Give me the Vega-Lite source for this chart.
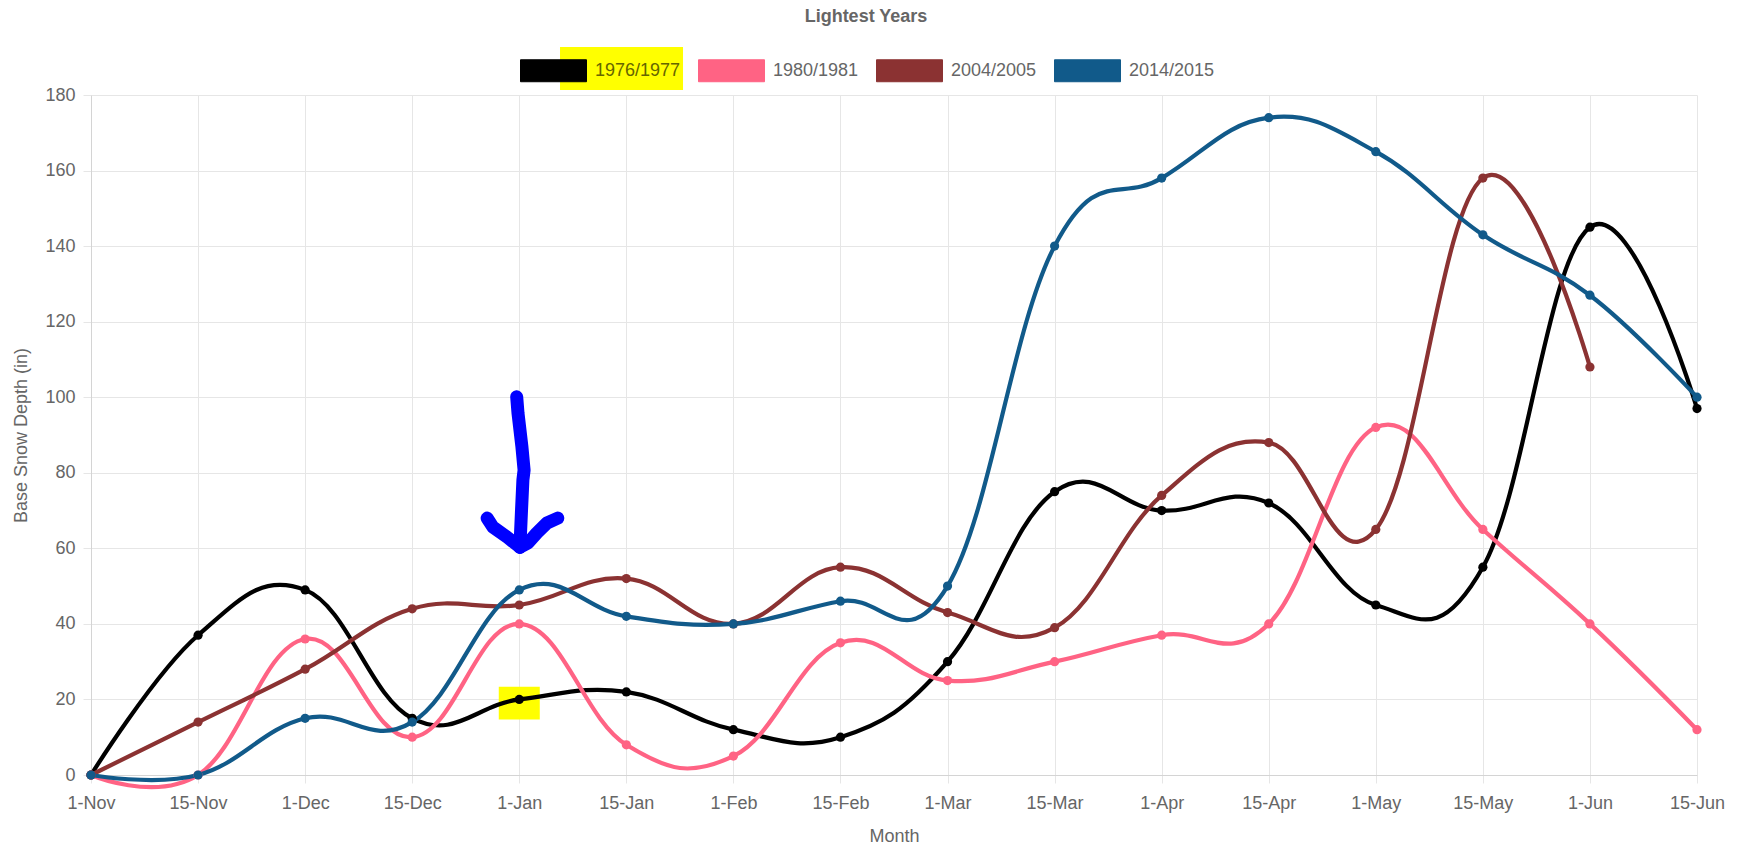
{
  "$schema": "https://vega.github.io/schema/vega-lite/v6.json",
  "width": 1606,
  "height": 680,
  "autosize": {"type": "none"},
  "padding": {"left": 91, "top": 95, "right": 44, "bottom": 71},
  "background": "white",
  "title": {"text": "Lightest Years", "fontSize": 18, "fontWeight": "bold", "color": "#666666", "font": "Liberation Sans", "anchor": "middle", "dx": -28, "offset": 11},
  "config": {"view": {"stroke": null}, "font": "Liberation Sans"},
  "datasets": {
    "depths": [
      {"season": "1976/1977", "pos": 0, "month": "1-Nov", "depth": 0},
      {"season": "1976/1977", "pos": 1, "month": "15-Nov", "depth": 37},
      {"season": "1976/1977", "pos": 2, "month": "1-Dec", "depth": 49},
      {"season": "1976/1977", "pos": 3, "month": "15-Dec", "depth": 15},
      {"season": "1976/1977", "pos": 4, "month": "1-Jan", "depth": 20},
      {"season": "1976/1977", "pos": 5, "month": "15-Jan", "depth": 22},
      {"season": "1976/1977", "pos": 6, "month": "1-Feb", "depth": 12},
      {"season": "1976/1977", "pos": 7, "month": "15-Feb", "depth": 10},
      {"season": "1976/1977", "pos": 8, "month": "1-Mar", "depth": 30},
      {"season": "1976/1977", "pos": 9, "month": "15-Mar", "depth": 75},
      {"season": "1976/1977", "pos": 10, "month": "1-Apr", "depth": 70},
      {"season": "1976/1977", "pos": 11, "month": "15-Apr", "depth": 72},
      {"season": "1976/1977", "pos": 12, "month": "1-May", "depth": 45},
      {"season": "1976/1977", "pos": 13, "month": "15-May", "depth": 55},
      {"season": "1976/1977", "pos": 14, "month": "1-Jun", "depth": 145},
      {"season": "1976/1977", "pos": 15, "month": "15-Jun", "depth": 97},
      {"season": "1980/1981", "pos": 0, "month": "1-Nov", "depth": 0},
      {"season": "1980/1981", "pos": 1, "month": "15-Nov", "depth": 0},
      {"season": "1980/1981", "pos": 2, "month": "1-Dec", "depth": 36},
      {"season": "1980/1981", "pos": 3, "month": "15-Dec", "depth": 10},
      {"season": "1980/1981", "pos": 4, "month": "1-Jan", "depth": 40},
      {"season": "1980/1981", "pos": 5, "month": "15-Jan", "depth": 8},
      {"season": "1980/1981", "pos": 6, "month": "1-Feb", "depth": 5},
      {"season": "1980/1981", "pos": 7, "month": "15-Feb", "depth": 35},
      {"season": "1980/1981", "pos": 8, "month": "1-Mar", "depth": 25},
      {"season": "1980/1981", "pos": 9, "month": "15-Mar", "depth": 30},
      {"season": "1980/1981", "pos": 10, "month": "1-Apr", "depth": 37},
      {"season": "1980/1981", "pos": 11, "month": "15-Apr", "depth": 40},
      {"season": "1980/1981", "pos": 12, "month": "1-May", "depth": 92},
      {"season": "1980/1981", "pos": 13, "month": "15-May", "depth": 65},
      {"season": "1980/1981", "pos": 14, "month": "1-Jun", "depth": 40},
      {"season": "1980/1981", "pos": 15, "month": "15-Jun", "depth": 12},
      {"season": "2004/2005", "pos": 0, "month": "1-Nov", "depth": 0},
      {"season": "2004/2005", "pos": 1, "month": "15-Nov", "depth": 14},
      {"season": "2004/2005", "pos": 2, "month": "1-Dec", "depth": 28},
      {"season": "2004/2005", "pos": 3, "month": "15-Dec", "depth": 44},
      {"season": "2004/2005", "pos": 4, "month": "1-Jan", "depth": 45},
      {"season": "2004/2005", "pos": 5, "month": "15-Jan", "depth": 52},
      {"season": "2004/2005", "pos": 6, "month": "1-Feb", "depth": 40},
      {"season": "2004/2005", "pos": 7, "month": "15-Feb", "depth": 55},
      {"season": "2004/2005", "pos": 8, "month": "1-Mar", "depth": 43},
      {"season": "2004/2005", "pos": 9, "month": "15-Mar", "depth": 39},
      {"season": "2004/2005", "pos": 10, "month": "1-Apr", "depth": 74},
      {"season": "2004/2005", "pos": 11, "month": "15-Apr", "depth": 88},
      {"season": "2004/2005", "pos": 12, "month": "1-May", "depth": 65},
      {"season": "2004/2005", "pos": 13, "month": "15-May", "depth": 158},
      {"season": "2004/2005", "pos": 14, "month": "1-Jun", "depth": 108},
      {"season": "2014/2015", "pos": 0, "month": "1-Nov", "depth": 0},
      {"season": "2014/2015", "pos": 1, "month": "15-Nov", "depth": 0},
      {"season": "2014/2015", "pos": 2, "month": "1-Dec", "depth": 15},
      {"season": "2014/2015", "pos": 3, "month": "15-Dec", "depth": 14},
      {"season": "2014/2015", "pos": 4, "month": "1-Jan", "depth": 49},
      {"season": "2014/2015", "pos": 5, "month": "15-Jan", "depth": 42},
      {"season": "2014/2015", "pos": 6, "month": "1-Feb", "depth": 40},
      {"season": "2014/2015", "pos": 7, "month": "15-Feb", "depth": 46},
      {"season": "2014/2015", "pos": 8, "month": "1-Mar", "depth": 50},
      {"season": "2014/2015", "pos": 9, "month": "15-Mar", "depth": 140},
      {"season": "2014/2015", "pos": 10, "month": "1-Apr", "depth": 158},
      {"season": "2014/2015", "pos": 11, "month": "15-Apr", "depth": 174},
      {"season": "2014/2015", "pos": 12, "month": "1-May", "depth": 165},
      {"season": "2014/2015", "pos": 13, "month": "15-May", "depth": 143},
      {"season": "2014/2015", "pos": 14, "month": "1-Jun", "depth": 127},
      {"season": "2014/2015", "pos": 15, "month": "15-Jun", "depth": 100}
    ],
    "arrow": [
      {"part": "shaft", "order": 0, "pos": 3.976, "depth": 100.1},
      {"part": "shaft", "order": 1, "pos": 3.988, "depth": 95.8},
      {"part": "shaft", "order": 2, "pos": 4.025, "depth": 86.8},
      {"part": "shaft", "order": 3, "pos": 4.045, "depth": 80.7},
      {"part": "shaft", "order": 4, "pos": 4.034, "depth": 78.1},
      {"part": "shaft", "order": 5, "pos": 4.02, "depth": 69.4},
      {"part": "shaft", "order": 6, "pos": 4.006, "depth": 60.3},
      {"part": "left", "order": 0, "pos": 3.7, "depth": 68.0},
      {"part": "left", "order": 1, "pos": 3.755, "depth": 65.6},
      {"part": "left", "order": 2, "pos": 3.885, "depth": 63.0},
      {"part": "left", "order": 3, "pos": 4.006, "depth": 60.3},
      {"part": "right", "order": 0, "pos": 4.36, "depth": 68.0},
      {"part": "right", "order": 1, "pos": 4.259, "depth": 66.7},
      {"part": "right", "order": 2, "pos": 4.165, "depth": 64.1},
      {"part": "right", "order": 3, "pos": 4.081, "depth": 61.4},
      {"part": "right", "order": 4, "pos": 4.006, "depth": 60.3}
    ],
    "highlight": [
      {"pos": 4, "depth": 19}
    ],
    "legendHighlight": [
      {"pos": 4.955, "depth": 187.0}
    ]
  },
  "layer": [
    {
      "data": {"name": "legendHighlight"},
      "mark": {"type": "point", "shape": "M-1,-0.35L1,-0.35L1,0.35L-1,0.35Z", "size": 15129, "filled": true, "color": "#ffff00", "opacity": 1, "strokeWidth": 0, "clip": false},
      "encoding": {
        "x": {"field": "pos", "type": "quantitative"},
        "y": {"field": "depth", "type": "quantitative"}
      }
    },
    {
      "data": {"name": "highlight"},
      "mark": {"type": "point", "shape": "M-1,-0.8L1,-0.8L1,0.8L-1,0.8Z", "size": 1681, "filled": true, "color": "#ffff00", "opacity": 1, "strokeWidth": 0},
      "encoding": {
        "x": {"field": "pos", "type": "quantitative"},
        "y": {"field": "depth", "type": "quantitative"}
      }
    },
    {
      "data": {"name": "depths"},
      "mark": {"type": "line", "interpolate": "cardinal", "tension": -0.2, "strokeWidth": 4.2},
      "encoding": {
        "x": {
          "field": "pos", "type": "quantitative",
          "scale": {"domain": [0, 15], "nice": false, "zero": false},
          "axis": {
            "title": "Month",
            "values": [0, 1, 2, 3, 4, 5, 6, 7, 8, 9, 10, 11, 12, 13, 14, 15],
            "labelExpr": "['1-Nov','15-Nov','1-Dec','15-Dec','1-Jan','15-Jan','1-Feb','15-Feb','1-Mar','15-Mar','1-Apr','15-Apr','1-May','15-May','1-Jun','15-Jun'][datum.value]",
            "grid": true, "gridColor": "#e6e6e6", "tickColor": "#e6e6e6", "tickSize": 8,
            "labelPadding": 11, "labelFontSize": 18, "labelColor": "#666666", "labelFont": "Liberation Sans",
            "labelAngle": 0, "labelFlush": false, "labelOverlap": false,
            "titleFontSize": 18, "titleColor": "#666666", "titleFontWeight": "normal", "titleFont": "Liberation Sans", "titlePadding": 15,
            "domainColor": "#d4d4d4"
          }
        },
        "y": {
          "field": "depth", "type": "quantitative",
          "scale": {"domain": [0, 180], "nice": false},
          "axis": {
            "title": "Base Snow Depth (in)",
            "values": [0, 20, 40, 60, 80, 100, 120, 140, 160, 180],
            "grid": true, "gridColor": "#e6e6e6", "tickColor": "#e6e6e6", "tickSize": 8,
            "labelPadding": 8, "labelFontSize": 18, "labelColor": "#666666", "labelFont": "Liberation Sans",
            "titleFontSize": 18, "titleColor": "#666666", "titleFontWeight": "normal", "titleFont": "Liberation Sans", "titlePadding": 14,
            "domainColor": "#d4d4d4"
          }
        },
        "color": {
          "field": "season", "type": "nominal",
          "scale": {"domain": ["1976/1977", "1980/1981", "2004/2005", "2014/2015"], "range": ["#000000", "#ff6384", "#8b3232", "#115a8a"]},
          "legend": {
            "title": null, "orient": "none", "legendX": 429, "legendY": -58, "direction": "horizontal",
            "symbolType": "M-1,-0.333L1,-0.333L1,0.333L-1,0.333Z", "symbolSize": 4356, "symbolStrokeWidth": 1,
            "symbolOpacity": 1,
            "labelFontSize": 18, "labelColor": "#666666", "labelFont": "Liberation Sans", "labelOffset": 8, "columnPadding": 15,
            "encode": {
              "symbols": {"update": {"fill": {"scale": "color", "field": "value"}, "stroke": {"scale": "color", "field": "value"}}},
              "labels": {"update": {"fill": [{"test": "datum.label === '1976/1977'", "value": "#666600"}, {"value": "#666666"}]}}
            }
          }
        }
      }
    },
    {
      "data": {"name": "depths"},
      "mark": {"type": "point", "filled": true, "size": 85, "opacity": 1},
      "encoding": {
        "x": {"field": "pos", "type": "quantitative"},
        "y": {"field": "depth", "type": "quantitative"},
        "color": {"field": "season", "type": "nominal"}
      }
    },
    {
      "data": {"name": "arrow"},
      "mark": {"type": "line", "color": "#0000ff", "strokeWidth": 13, "strokeCap": "round", "strokeJoin": "round"},
      "encoding": {
        "x": {"field": "pos", "type": "quantitative"},
        "y": {"field": "depth", "type": "quantitative"},
        "detail": {"field": "part", "type": "nominal"},
        "order": {"field": "order", "type": "quantitative"}
      }
    }
  ]
}
